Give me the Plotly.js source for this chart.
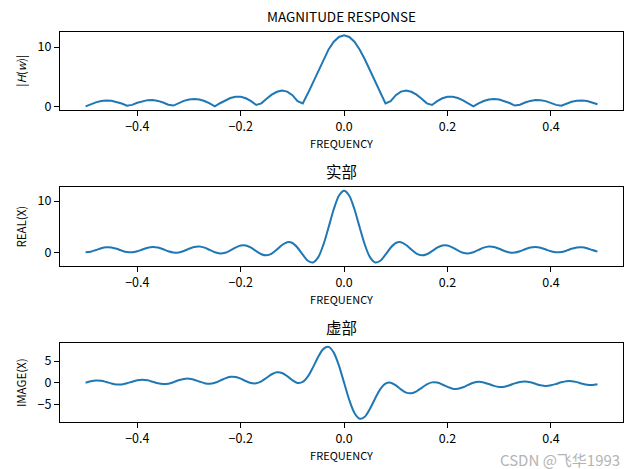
<!DOCTYPE html>
<html>
<head>
<meta charset="utf-8">
<script src="https://cdn.plot.ly/plotly-3.0.1.min.js"></script>
<style>html,body{margin:0;padding:0;background:#fff;}#chart{width:630px;height:469px;}</style>
</head>
<body>
<div id="chart"></div>
<script>
const freq = [-0.50,-0.49,-0.48,-0.47,-0.46,-0.45,-0.44,-0.43,-0.42,-0.41,-0.40,-0.39,-0.38,-0.37,-0.36,-0.35,-0.34,-0.33,-0.32,-0.31,-0.30,-0.29,-0.28,-0.27,-0.26,-0.25,-0.24,-0.23,-0.22,-0.21,-0.20,-0.19,-0.18,-0.17,-0.16,-0.15,-0.14,-0.13,-0.12,-0.11,-0.10,-0.09,-0.08,-0.07,-0.06,-0.05,-0.04,-0.03,-0.02,-0.01,
0.00,0.01,0.02,0.03,0.04,0.05,0.06,0.07,0.08,0.09,0.10,0.11,0.12,0.13,0.14,0.15,0.16,0.17,0.18,0.19,0.20,0.21,0.22,0.23,0.24,0.25,0.26,0.27,0.28,0.29,0.30,0.31,0.32,0.33,0.34,0.35,0.36,0.37,0.38,0.39,0.40,0.41,0.42,0.43,0.44,0.45,0.46,0.47,0.48,0.49];

const magnitude = [0,0.368,0.686,0.909,1.006,0.963,0.784,0.494,0.129,0.259,0.618,0.897,1.057,1.070,0.933,0.660,0.284,0.146,0.571,0.932,1.176,1.263,1.174,0.913,0.505,0,0.538,1.035,1.419,1.628,1.618,1.371,0.899,0.246,0.516,1.295,1.983,2.473,2.668,2.492,1.902,0.891,0.504,2.209,4.112,6.080,7.963,9.614,10.902,11.719,
12,11.719,10.902,9.614,7.963,6.080,4.112,2.209,0.504,0.891,1.902,2.492,2.668,2.473,1.983,1.295,0.516,0.246,0.899,1.371,1.618,1.628,1.419,1.035,0.538,0,0.505,0.913,1.174,1.263,1.176,0.932,0.571,0.146,0.284,0.660,0.933,1.070,1.057,0.897,0.618,0.259,0.129,0.494,0.784,0.963,1.006,0.909,0.686,0.368];

const realPart = [0,0.125,0.437,0.782,0.988,0.951,0.687,0.327,0.048,-0.008,0.191,0.550,0.892,1.044,0.926,0.588,0.194,-0.058,-0.036,0.260,0.691,1.045,1.137,0.909,0.457,0,-0.229,-0.097,0.353,0.915,1.309,1.316,0.897,0.226,-0.376,-0.588,-0.248,0.539,1.430,1.969,1.809,0.891,-0.469,-1.657,-1.981,-0.951,1.492,4.894,8.400,11.026,
12,11.026,8.400,4.894,1.492,-0.951,-1.981,-1.657,-0.469,0.891,1.809,1.969,1.430,0.539,-0.248,-0.588,-0.376,0.226,0.897,1.316,1.309,0.915,0.353,-0.097,-0.229,0,0.457,0.909,1.137,1.045,0.691,0.260,-0.036,-0.058,0.194,0.588,0.926,1.044,0.892,0.550,0.191,-0.008,0.048,0.327,0.687,0.951,0.988,0.782,0.437,0.125];

const imagPart = [0,0.346,0.529,0.463,0.189,-0.151,-0.378,-0.371,-0.120,0.259,0.588,0.709,0.566,0.233,-0.117,-0.300,-0.207,0.134,0.570,0.895,0.951,0.710,0.292,-0.086,-0.215,0,0.487,1.031,1.375,1.347,0.951,0.383,-0.056,-0.098,0.353,1.154,1.967,2.414,2.253,1.527,0.588,-0.028,0.186,1.461,3.603,6.005,7.822,8.275,6.949,3.969,
0,-3.969,-6.949,-8.275,-7.822,-6.005,-3.603,-1.461,-0.186,0.028,-0.588,-1.527,-2.253,-2.414,-1.967,-1.154,-0.353,0.098,0.056,-0.383,-0.951,-1.347,-1.375,-1.031,-0.487,0,0.215,0.086,-0.292,-0.710,-0.951,-0.895,-0.570,-0.134,0.207,0.300,0.117,-0.233,-0.566,-0.709,-0.588,-0.259,0.120,0.371,0.378,0.151,-0.189,-0.463,-0.529,-0.346];

const xTickVals = [-0.4,-0.2,0.0,0.2,0.4];
const xTickText = ['\u22120.4','\u22120.2','0.0','0.2','0.4'];
const subplotTitles = ['MAGNITUDE RESPONSE','实部','虚部'];
const xLabel = 'FREQUENCY';
const yLabels = ['|<i>H</i>(<i>w</i>)|','REAL(X)','IMAGE(X)'];
const watermark = 'CSDN @飞华1993';

const FONT = '"Noto Sans CJK SC", "Noto Sans", sans-serif';
const lineColor = '#1f77b4';

const traces = [
  {x: freq, y: magnitude, xaxis: 'x', yaxis: 'y', type: 'scatter', mode: 'lines', line: {color: lineColor, width: 2}},
  {x: freq, y: realPart, xaxis: 'x2', yaxis: 'y2', type: 'scatter', mode: 'lines', line: {color: lineColor, width: 2, shape: 'spline', smoothing: 0.8}},
  {x: freq, y: imagPart, xaxis: 'x3', yaxis: 'y3', type: 'scatter', mode: 'lines', line: {color: lineColor, width: 2, shape: 'spline', smoothing: 0.8}}
];

function xa(anchor) {
  return {
    domain: [0.0952, 0.989], anchor: anchor, range: [-0.5495, 0.5395],
    tickmode: 'array', tickvals: xTickVals, ticktext: xTickText,
    ticks: 'outside', ticklen: 5, tickwidth: 1, tickcolor: '#000',
    showline: true, mirror: true, linecolor: '#000', linewidth: 1.1,
    showgrid: false, zeroline: false,
    tickfont: {family: FONT, size: 12.5, color: '#000'},
    title: {text: xLabel, font: {family: FONT, size: 11, color: '#000'}, standoff: 4}
  };
}
function ya(anchor, domain, range, vals, text, label) {
  return {
    domain: domain, anchor: anchor, range: range,
    tickmode: 'array', tickvals: vals, ticktext: text,
    ticks: 'outside', ticklen: 5, tickwidth: 1, tickcolor: '#000',
    showline: true, mirror: true, linecolor: '#000', linewidth: 1.1,
    showgrid: false, zeroline: false,
    tickfont: {family: FONT, size: 12.5, color: '#000'},
    title: {text: label, font: {family: FONT, size: 11.5, color: '#000'}, standoff: 8}
  };
}

const layout = {
  width: 630, height: 469,
  margin: {l: 0, r: 0, t: 0, b: 0},
  paper_bgcolor: '#fff', plot_bgcolor: '#fff',
  showlegend: false,
  xaxis: xa('y'), xaxis2: xa('y2'), xaxis3: xa('y3'),
  yaxis: ya('x', [0.7655, 0.9324], [-0.6, 12.6], [0, 10], ['0','10'], yLabels[0]),
  yaxis2: ya('x2', [0.4328, 0.6006], [-2.68, 12.68], [0, 10], ['0','10'], yLabels[1]),
  yaxis3: ya('x3', [0.0996, 0.268], [-9.1, 9.1], [-5, 0, 5], ['\u22125','0','5'], yLabels[2]),
  annotations: [
    {text: subplotTitles[0], xref: 'paper', yref: 'paper', x: 0.542, y: 0.9324, yshift: 4, xanchor: 'center', yanchor: 'bottom', showarrow: false, font: {family: FONT, size: 13.5, color: '#000'}},
    {text: subplotTitles[1], xref: 'paper', yref: 'paper', x: 0.542, y: 0.6006, yshift: 3, xanchor: 'center', yanchor: 'bottom', showarrow: false, font: {family: FONT, size: 15.5, color: '#000'}},
    {text: subplotTitles[2], xref: 'paper', yref: 'paper', x: 0.542, y: 0.268, yshift: 3, xanchor: 'center', yanchor: 'bottom', showarrow: false, font: {family: FONT, size: 15.5, color: '#000'}},
    {text: watermark, xref: 'paper', yref: 'paper', x: 0.985, y: 0.02, xanchor: 'right', yanchor: 'middle', borderpad: 0, showarrow: false, font: {family: FONT, size: 15, color: '#b4b4b4'}}
  ]
};

Plotly.newPlot('chart', traces, layout, {displayModeBar: false, staticPlot: true});
</script>
</body>
</html>
